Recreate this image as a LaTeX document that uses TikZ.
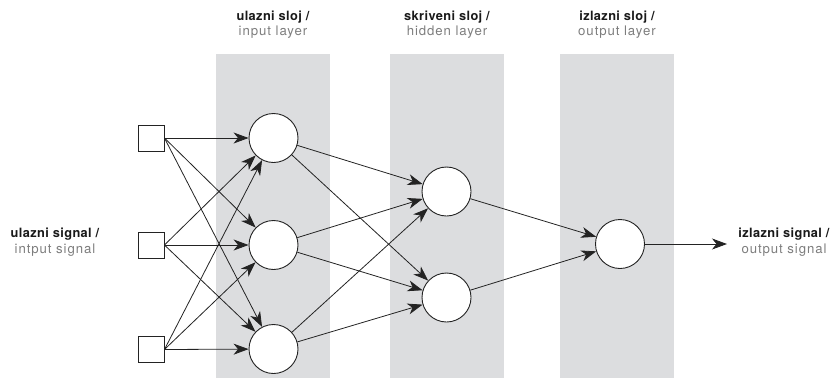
\documentclass[tikz,border=0pt]{standalone}
\usepackage{fontspec}
\setmainfont{TeX Gyre Heros}
\newfontfamily\lblbold[LetterSpace=3]{TeX Gyre Heros Bold}
\newfontfamily\lblreg[LetterSpace=7]{TeX Gyre Heros}
\usetikzlibrary{arrows.meta}
\definecolor{bandgray}{RGB}{220,221,223}
\definecolor{txtgray}{RGB}{125,125,125}
\definecolor{txtdark}{RGB}{25,25,25}
\definecolor{linedark}{RGB}{35,35,35}
\tikzset{
  band/.style={fill=bandgray, draw=none},
  inbox/.style={draw=linedark, line width=0.9pt, fill=white, minimum size=26pt, inner sep=0pt},
  neuron/.style={circle, draw=linedark, line width=0.9pt, fill=white, minimum size=49pt, inner sep=0pt},
  conn/.style={draw=linedark, line width=0.8pt, -{Stealth[length=15pt,width=11pt,inset=4.5pt]}},
  titletxt/.style={anchor=base, font=\fontsize{12.8}{14}\lblbold, text=txtdark, inner sep=0pt},
  subtxt/.style={anchor=base, font=\fontsize{13.2}{15}\lblreg, text=txtgray, inner sep=0pt}
}
\begin{document}
\begin{tikzpicture}[x=1pt,y=-1pt]
\useasboundingbox (0,0) rectangle (836,378);
% bands
\fill[band] (216,54) rectangle (330,378);
\fill[band] (390,54) rectangle (504,378);
\fill[band] (560,54) rectangle (674,378);
% top labels
\node[titletxt] (t1) at (273,20.5) {ulazni sloj /};
\node[subtxt] (u1) at (273,35.5) {input layer};
\node[titletxt] (t2) at (447,20.5) {skriveni sloj /};
\node[subtxt] (u2) at (447,35.5) {hidden layer};
\node[titletxt] (t3) at (617,20.5) {izlazni sloj /};
\node[subtxt] (u3) at (617,35.5) {output layer};
% side labels
\node[titletxt] (lt) at (55,237) {ulazni signal /};
\node[subtxt] (ls) at (55,253) {intput signal};
\node[titletxt] (rt) at (784,237) {izlazni signal /};
\node[subtxt] (rs) at (784,253) {output signal};
% input squares
\node[inbox] (s1) at (151,138) {};
\node[inbox] (s2) at (151,245) {};
\node[inbox] (s3) at (151,349.5) {};
% input neurons
\node[neuron] (i1) at (273.5,138) {};
\node[neuron] (i2) at (273.5,245) {};
\node[neuron] (i3) at (273.5,349) {};
% hidden neurons
\node[neuron] (h1) at (446.5,191.5) {};
\node[neuron] (h2) at (446.5,297.5) {};
% output neuron
\node[neuron] (o) at (620,244) {};
\coordinate (end) at (727,244);
% connections squares -> input neurons
\foreach \s in {s1,s2,s3}{
  \foreach \i in {i1,i2,i3}{
    \draw[conn] (\s.east) -- (\i);
  }
}
% input -> hidden
\foreach \i in {i1,i2,i3}{
  \foreach \h in {h1,h2}{
    \draw[conn] (\i) -- (\h);
  }
}
% hidden -> output
\draw[conn] (h1) -- (o);
\draw[conn] (h2) -- (o);
\draw[conn] (o.east) -- (end);
\end{tikzpicture}
\end{document}
